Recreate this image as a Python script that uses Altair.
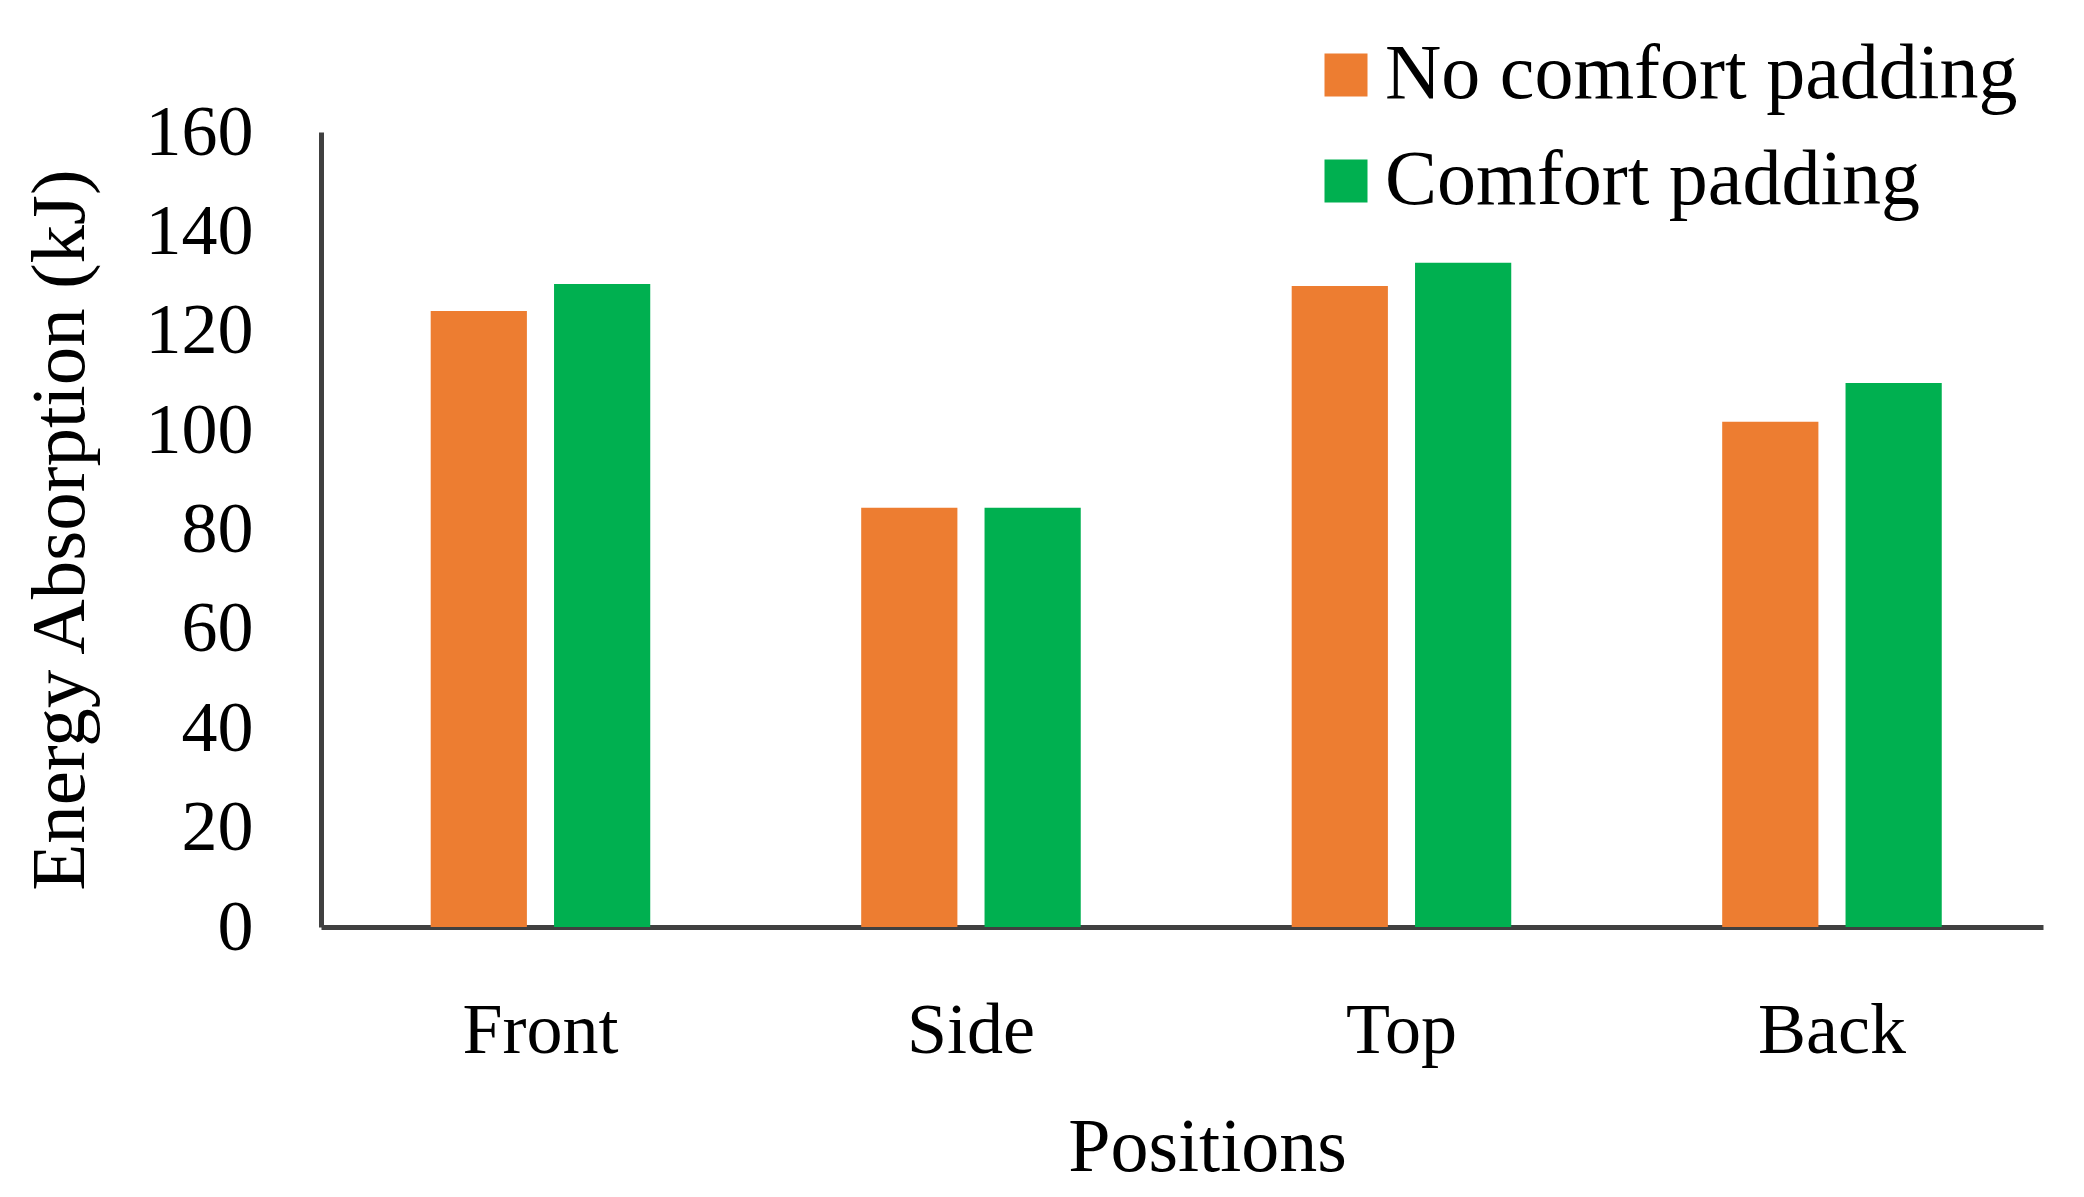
import altair as alt
import pandas as pd

categories = ["Front", "Side", "Top", "Back"]
series = ["No comfort padding", "Comfort padding"]
no_padding = [124.0, 84.4, 129.0, 101.7]
with_padding = [129.4, 84.4, 133.7, 109.5]
colors = ["#ED7D31", "#00B050"]
y_ticks = [0, 20, 40, 60, 80, 100, 120, 140, 160]

rows = []
for c, a, b in zip(categories, no_padding, with_padding):
    rows.append({"Position": c, "Series": series[0], "Value": a})
    rows.append({"Position": c, "Series": series[1], "Value": b})
df = pd.DataFrame(rows)

FONT = "Liberation Serif"
FS = 72
AXC = "#404040"

chart = alt.Chart(df).mark_bar().encode(
    x=alt.X("Position:N", sort=categories,
            scale=alt.Scale(paddingInner=0.49, paddingOuter=0.245, align=0.52),
            axis=alt.Axis(title="Positions", labelAngle=0, ticks=False,
                          domainWidth=5, domainColor=AXC,
                          labelFont=FONT, labelFontSize=FS, labelColor="black",
                          labelPadding=68, titleFont=FONT, titleFontSize=76,
                          titleFontWeight="normal", titleColor="black",
                          titlePadding=44, titleX=886)),
    xOffset=alt.XOffset("Series:N", sort=series,
                        scale=alt.Scale(paddingInner=0.22)),
    y=alt.Y("Value:Q", scale=alt.Scale(domain=[0, 160]),
            axis=alt.Axis(title="Energy Absorption (kJ)", values=y_ticks,
                          grid=False, ticks=False, domainWidth=5,
                          domainColor=AXC, labelFont=FONT, labelFontSize=FS,
                          labelColor="black", labelPadding=68,
                          titleFont=FONT, titleFontSize=77,
                          titleFontWeight="normal", titleColor="black",
                          titlePadding=46)),
    color=alt.Color("Series:N", sort=series,
                    scale=alt.Scale(domain=series, range=colors),
                    legend=alt.Legend(title=None, orient="none",
                                      legendX=986, legendY=-96,
                                      symbolType="square", symbolSize=1849,
                                      symbolStrokeWidth=0,
                                      labelFont=FONT, labelFontSize=78,
                                      labelColor="black", labelOffset=0,
                                      labelLimit=0,
                                      rowPadding=28, padding=0)),
).properties(
    width=1722, height=795,
    autosize=alt.AutoSizeParams(type="none"),
    padding={"left": 313, "top": 124, "right": 33, "bottom": 262},
).configure_view(stroke=None)

chart.save("out.html", embed_options={"renderer": "svg", "actions": False})
